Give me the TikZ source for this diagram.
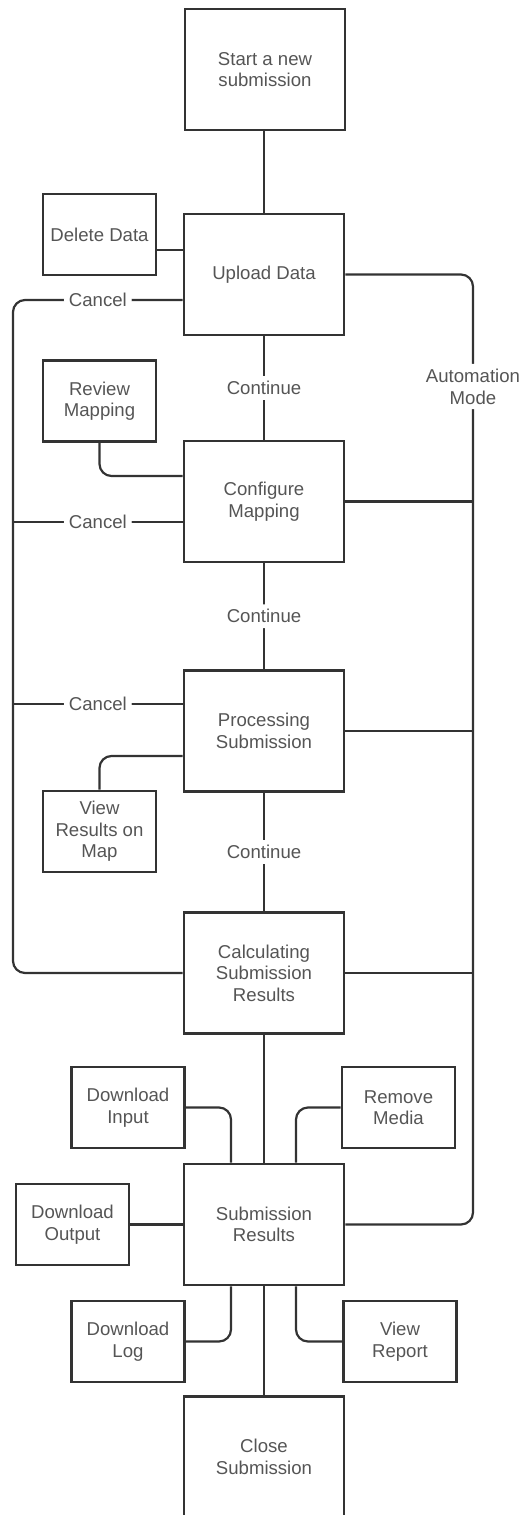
\documentclass[tikz,border=0pt]{standalone}
\usepackage{fontspec}
\setmainfont{Liberation Sans}
\usetikzlibrary{positioning}
\definecolor{linegray}{HTML}{333333}
\definecolor{textgray}{HTML}{555555}

\begin{document}
\begin{tikzpicture}[x = 0.5pt, y = -0.5pt,
  stage/.style = {draw = linegray, line width = 1.3pt, shape = rectangle, minimum width = 80pt, minimum height = 60.5pt, align = center, text = textgray, font = \fontsize{9.3}{10.8}\selectfont},
  side/.style = {stage, minimum width = 56.5pt, minimum height = 40.5pt},
  link/.style = {draw = linegray, line width = 1.1pt, rounded corners = 6pt},
  lbl/.style = {fill = white, text = textgray, inner sep = 2.5pt, align = center, font = \fontsize{9.3}{10.8}\selectfont}]
\useasboundingbox (0,0) rectangle (531,1515);
\clip (0,0) rectangle (531,1515);

\node[stage] (start) at (265,69.5) {Start a new\\submission};
\node[stage] (upload) at (264,274.5) {Upload Data};
\node[side] (delete) at (99.5,234.5) {Delete Data};
\node[side] (review) at (99.5,401) {Review\\Mapping};
\node[stage] (config) at (264,501.5) {Configure\\Mapping};
\node[stage] (proc) at (264,731) {Processing\\Submission};
\node[side] (viewmap) at (99.5,831.5) {View\\Results on\\Map};
\node[stage] (calc) at (264,973) {Calculating\\Submission\\Results};
\node[side] (dlinput) at (128,1107.5) {Download\\Input};
\node[side] (rmmedia) at (398.5,1107.5) {Remove\\Media};
\node[stage] (subres) at (264,1224.5) {Submission\\Results};
\node[side] (dloutput) at (72.5,1224.5) {Download\\Output};
\node[side] (dllog) at (128,1341.5) {Download\\Log};
\node[side] (viewrep) at (400,1341.5) {View\\Report};
\node[stage] (close) at (264,1457) {Close\\Submission};

\coordinate (cancelTop) at (13,300);
\coordinate (cancelBot) at (13,973);
\coordinate (autoTop) at (473,274.5);
\coordinate (autoBot) at (473,1224.5);

\draw[link] (start.south -| upload.north) -- (upload);
\draw[link] (upload) -- node[lbl] {Continue} (config);
\draw[link] (config) -- node[lbl] {Continue} (proc);
\draw[link] (proc) -- node[lbl] {Continue} (calc);
\draw[link] (calc) -- (subres);
\draw[link] (subres) -- (close);

\draw[link] (upload.west |- 0,250) -- (delete.east |- 0,250);
\draw[link] (review.south) |- (config.west |- 0,476);
\draw[link] (proc.west |- 0,756) -| (viewmap.north);

\draw[link] (upload.west |- cancelTop) -- node[lbl] {Cancel} (cancelTop) -- (cancelBot) -- (calc.west);
\draw[link] (config.west |- 0,522) -- node[lbl] {Cancel} (cancelTop |- 0,522);
\draw[link] (proc.west |- 0,704) -- node[lbl] {Cancel} (cancelTop |- 0,704);

\draw[link] (upload.east) -- (autoTop) -- node[lbl, pos = 0.118] {Automation\\Mode} (autoBot) -- (subres.east);
\draw[link] (config.east) -- (autoTop |- config.east);
\draw[link] (proc.east) -- (autoTop |- proc.east);
\draw[link] (calc.east) -- (autoTop |- calc.east);

\draw[link] (dlinput.east) -| ([xshift = -16.5pt]subres.north);
\draw[link] (rmmedia.west) -| ([xshift = 16pt]subres.north);
\draw[link] (dloutput) -- (subres);
\draw[link] ([xshift = -16.5pt]subres.south) |- (dllog.east);
\draw[link] ([xshift = 16pt]subres.south) |- (viewrep.west);
\end{tikzpicture}
\end{document}
